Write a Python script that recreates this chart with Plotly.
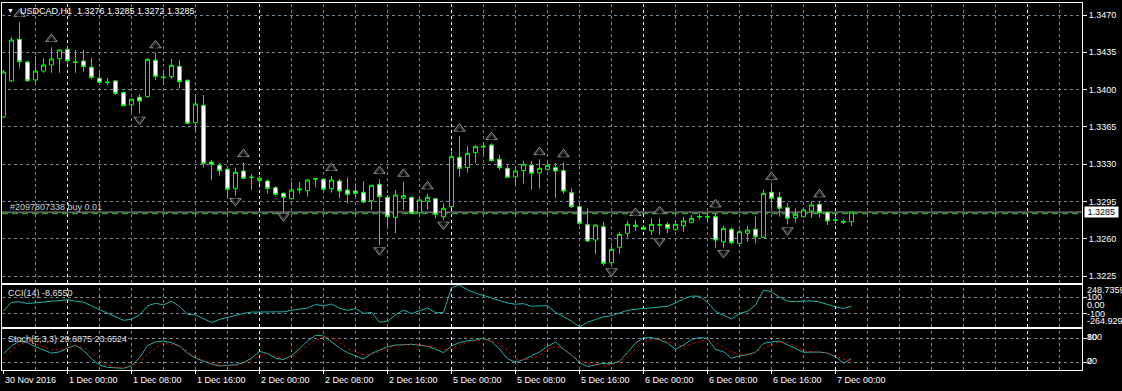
import plotly.graph_objects as go

# ---------------- data: H1 bars, bar 0 = 30 Nov 2016 16:00 ----------------
opens = [1.33743, 1.34081, 1.34472, 1.34259, 1.34090, 1.34174, 1.34231, 1.34290, 1.34378, 1.34259,
         1.34268, 1.34209, 1.34106, 1.34071, 1.34081, 1.33974, 1.33858, 1.33928, 1.33933, 1.34275,
         1.34118, 1.34121, 1.34218, 1.34087, 1.33689, 1.33852, 1.33320, 1.33289, 1.33252, 1.33073,
         1.33236, 1.33179, 1.33145, 1.33142, 1.33079, 1.33026, 1.32976, 1.33057, 1.33051, 1.33158,
         1.33158, 1.33070, 1.33142, 1.33057, 1.33048, 1.33036, 1.32957, 1.33111, 1.32989, 1.32801,
         1.32980, 1.32989, 1.32844, 1.32954, 1.32976, 1.32807, 1.32901, 1.33364, 1.33270, 1.33408,
         1.33461, 1.33480, 1.33346, 1.33261, 1.33182, 1.33239, 1.33289, 1.33220, 1.33252, 1.33267,
         1.33239, 1.33032, 1.32901, 1.32732, 1.32588, 1.32713, 1.32375, 1.32520, 1.32651, 1.32715,
         1.32707, 1.32675, 1.32726, 1.32735, 1.32689, 1.32722, 1.32754, 1.32804, 1.32809, 1.32807,
         1.32572, 1.32689, 1.32557, 1.32651, 1.32689, 1.32613, 1.33036, 1.32989, 1.32891, 1.32797,
         1.32807, 1.32860, 1.32923, 1.32848, 1.32776, 1.32764, 1.32760]
highs = [1.34184, 1.34494, 1.34634, 1.34268, 1.34315, 1.34294, 1.34397, 1.34376, 1.34403, 1.34372,
         1.34372, 1.34299, 1.34153, 1.34106, 1.34090, 1.33980, 1.33916, 1.33956, 1.34294, 1.34346,
         1.34158, 1.34287, 1.34278, 1.34095, 1.33956, 1.33949, 1.33339, 1.33314, 1.33261, 1.33267,
         1.33317, 1.33208, 1.33189, 1.33158, 1.33095, 1.33036, 1.33135, 1.33133, 1.33161, 1.33170,
         1.33170, 1.33189, 1.33161, 1.33177, 1.33120, 1.33142, 1.33104, 1.33158, 1.33010, 1.33057,
         1.33135, 1.32995, 1.32995, 1.33020, 1.32985, 1.32933, 1.33417, 1.33564, 1.33470, 1.33480,
         1.33496, 1.33496, 1.33386, 1.33292, 1.33276, 1.33332, 1.33330, 1.33346, 1.33308, 1.33308,
         1.33317, 1.33073, 1.32948, 1.32886, 1.32734, 1.32760, 1.32563, 1.32666, 1.32767, 1.32776,
         1.32729, 1.32792, 1.32792, 1.32754, 1.32757, 1.32807, 1.32823, 1.32839, 1.32844, 1.32839,
         1.32720, 1.32704, 1.32682, 1.32720, 1.32807, 1.33064, 1.33126, 1.33041, 1.32938, 1.32886,
         1.32895, 1.32948, 1.32948, 1.32860, 1.32813, 1.32782, 1.32850]
lows = [1.33733, 1.34071, 1.34200, 1.34076, 1.34068, 1.34158, 1.34158, 1.34158, 1.34247, 1.34158,
        1.34168, 1.34099, 1.34059, 1.34043, 1.33949, 1.33841, 1.33792, 1.33777, 1.33926, 1.34090,
        1.34043, 1.34099, 1.34012, 1.33677, 1.33605, 1.33267, 1.33151, 1.33192, 1.32995, 1.33004,
        1.33164, 1.33057, 1.33114, 1.33026, 1.33004, 1.32854, 1.32968, 1.33026, 1.32995, 1.33083,
        1.33051, 1.33032, 1.32980, 1.32933, 1.32995, 1.32933, 1.32870, 1.32541, 1.32713, 1.32651,
        1.32870, 1.32832, 1.32832, 1.32870, 1.32792, 1.32776, 1.32886, 1.33182, 1.33220, 1.33308,
        1.33386, 1.33325, 1.33245, 1.33170, 1.33104, 1.33120, 1.33064, 1.33073, 1.33240, 1.32980,
        1.33020, 1.32889, 1.32729, 1.32569, 1.32454, 1.32347, 1.32337, 1.32463, 1.32613, 1.32673,
        1.32682, 1.32635, 1.32635, 1.32651, 1.32673, 1.32666, 1.32745, 1.32782, 1.32751, 1.32516,
        1.32516, 1.32548, 1.32551, 1.32572, 1.32557, 1.32607, 1.32886, 1.32807, 1.32735, 1.32751,
        1.32799, 1.32797, 1.32801, 1.32729, 1.32738, 1.32738, 1.32720]
closes = [1.34165, 1.34465, 1.34262, 1.34083, 1.34174, 1.34231, 1.34287, 1.34372, 1.34271, 1.34256,
          1.34215, 1.34115, 1.34068, 1.34066, 1.33965, 1.33849, 1.33909, 1.33893, 1.34284, 1.34125,
          1.34113, 1.34228, 1.34074, 1.33684, 1.33865, 1.33308, 1.33299, 1.33239, 1.33064, 1.33224,
          1.33167, 1.33175, 1.33167, 1.33073, 1.33017, 1.32989, 1.33057, 1.33067, 1.33151, 1.33164,
          1.33064, 1.33151, 1.33048, 1.33017, 1.33026, 1.32945, 1.33102, 1.32995, 1.32807, 1.33010,
          1.33004, 1.32839, 1.32964, 1.32989, 1.32829, 1.32886, 1.33370, 1.33261, 1.33402, 1.33464,
          1.33468, 1.33332, 1.33267, 1.33177, 1.33236, 1.33299, 1.33214, 1.33261, 1.33289, 1.33236,
          1.33048, 1.32901, 1.32745, 1.32579, 1.32729, 1.32369, 1.32501, 1.32642, 1.32735, 1.32726,
          1.32689, 1.32735, 1.32732, 1.32698, 1.32735, 1.32767, 1.32792, 1.32809, 1.32804, 1.32588,
          1.32698, 1.32563, 1.32666, 1.32682, 1.32619, 1.33026, 1.32980, 1.32886, 1.32792, 1.32829,
          1.32870, 1.32917, 1.32844, 1.32767, 1.32773, 1.32757, 1.32850]

cci = [-69.5, 37.8, 42.7, 23, 30.5, 41.5, 53.7, 63.4, 68.3, 50, 40.3,
       -8.5, -50, -97.6, -141.5, -183, -171, -118, -6, 25.6, 6,
       50, -12, -110, -116, -159, -210, -173, -148, -129, -98,
       -83, -82, -83, -85, -79, -61, -49, -34, 11, -6,
       17, -37, -61, -40, -100, -85, -205, -195, -116, -59,
       -100, -65, -32, -89, -89, 218, 248.7359, 189, 149, 121,
       89, 51, 28, 13, 21, -11, -6, -4, -85, -143,
       -192, -264.929, -207, -173, -143, -126, -92, -61, -48, -40,
       -31, -22, -12, 28, 78, 113, 111, 37, -73, -122,
       -168, -100, -73, 4, 185, 167, 100, 51, 45, 51,
       55, 40, 7, -18, -40, -8.655]

stoch_main = [40.8, 61, 73, 69, 58.5, 50, 43, 46, 56, 63, 50,
              28.5, 13.5, 7.5, 6, 5, 11.5, 31, 62, 71, 73,
              69, 60.5, 43, 30.5, 22.5, 15.5, 11, 12, 14, 19,
              30, 47.5, 42, 30, 27, 37, 53.5, 73.5, 87.5, 86,
              71, 56, 44, 36, 28, 42, 51.5, 59, 63, 64.5,
              65, 63, 60, 53, 44, 61, 69.5, 74, 75.5, 80,
              72.5, 52.5, 29, 20, 26.5, 36, 46, 59.5, 71, 53,
              38, 20, 9, 14, 17, 16, 23, 44.5, 68, 81,
              82, 76.5, 67.5, 53, 63, 77, 82, 79.5, 52, 46.5,
              30, 36, 39, 45, 67.5, 71, 73, 64, 55, 45,
              45.5, 45.5, 43, 34, 17.5, 29.6875]
stoch_signal = [27.5, 49.5, 66, 70, 66, 58, 50.5, 52, 56, 62, 57,
                42.5, 26, 13, 7, 6.5, 11.5, 20, 39.5, 56, 67,
                65.5, 59, 47.5, 34, 25, 18.5, 12, 11, 12, 16,
                25.5, 36.5, 43.5, 34, 29, 34, 46, 63, 74.5, 84,
                81, 70, 55, 45, 39.5, 39, 46.5, 56, 61.5, 63,
                65.5, 64.5, 61.5, 57, 51, 54, 63, 70, 74, 77,
                75, 66.5, 50, 29.5, 25, 31, 37.5, 53, 59, 55,
                37, 25, 17, 14.5, 13, 14.5, 20, 34.5, 55, 71,
                76, 77.5, 72.5, 66, 59, 66, 72.5, 77, 70, 58,
                46, 40, 37, 45, 55, 64, 70, 69.5, 60.5, 49,
                47, 45.5, 44.5, 35.5, 27.5, 23.6524]

up_arrow_bars = [2, 6, 19, 30, 41, 47, 50, 53, 57, 61, 67, 70, 79, 82, 89, 96, 102]
up_arrow_prices = [1.34709, 1.34475, 1.34416, 1.33395, 1.33264, 1.33236, 1.33210, 1.33092, 1.33633,
                   1.33555, 1.33414, 1.33393, 1.32842, 1.32860, 1.32923, 1.33180, 1.33017]
down_arrow_bars = [17, 29, 35, 47, 55, 76, 82, 90, 98]
down_arrow_prices = [1.33717, 1.32954, 1.32811, 1.32492, 1.32732, 1.32294, 1.32576, 1.32466, 1.32679]

symbol_name = "USDCAD,H1"
order_label = "#2097807338 buy 0.01"
order_price = 1.32835

time_label_bars = [0, 8, 16, 24, 32, 40, 48, 56, 64, 72, 80, 88, 96, 104]
time_labels = ["30 Nov 2016", "1 Dec 00:00", "1 Dec 08:00", "1 Dec 16:00", "2 Dec 00:00",
               "2 Dec 08:00", "2 Dec 16:00", "5 Dec 00:00", "5 Dec 08:00", "5 Dec 16:00",
               "6 Dec 00:00", "6 Dec 08:00", "6 Dec 16:00", "7 Dec 00:00"]
day_separator_bars = [8, 32, 56, 80, 104, 128]
price_ticks = [1.3470, 1.3435, 1.3400, 1.3365, 1.3330, 1.3295, 1.3260, 1.3225]
cci_levels = [100, -100]
stoch_levels = [80, 20]

# ---------------- layout geometry / styles ----------------
W, H = 1122, 391
PL, PR = 2, 1082
MAIN_T, MAIN_B = 2.5, 283.0
CCI_T, CCI_B = 285.0, 327.0
STO_T, STO_B = 329.0, 370.0
BAR_PX = 8.0
FIRST_BAR_PX = 3.5
PX_PER_PRICE = 37.29 / 0.0035
REF_PRICE, REF_PX = 1.3470, 15.0
GRID = "#778899"
DASH = "3px,3px"
FONT = "Liberation Sans, Arial, sans-serif"
FS = 9
LSG = "#20b2aa"
LIME = "#00ff00"

n = len(opens)
bars = list(range(n))


def dom(t, b):
    return [1 - b / H, 1 - t / H]


def py(px):
    return 1 - px / H


x_lo = -(FIRST_BAR_PX - PL) / BAR_PX
x_range = [x_lo, x_lo + (PR - PL) / BAR_PX]
y_main_range = [REF_PRICE - (MAIN_B - REF_PX) / PX_PER_PRICE,
                REF_PRICE + (REF_PX - MAIN_T) / PX_PER_PRICE]
ppp = 1.0 / PX_PER_PRICE
cci_range = [min(cci), max(cci)]
stoch_range = [0.75, 103.25]

fig = go.Figure()

fig.add_trace(go.Candlestick(
    x=bars, open=opens, high=highs, low=lows, close=closes,
    increasing=dict(line=dict(color=LIME, width=1), fillcolor="black"),
    decreasing=dict(line=dict(color=LIME, width=1), fillcolor="white"),
    whiskerwidth=0, hoverinfo="skip", xaxis="x", yaxis="y"))

arrow_fill, arrow_edge = "#2e2e2e", "#8a8a8a"
fig.add_trace(go.Scatter(x=up_arrow_bars, y=up_arrow_prices, mode="markers",
                         marker=dict(symbol="triangle-up", size=10, color=arrow_fill,
                                     line=dict(color=arrow_edge, width=1)),
                         hoverinfo="skip", xaxis="x", yaxis="y"))
fig.add_trace(go.Scatter(x=up_arrow_bars, y=[p - 1.25 * ppp for p in up_arrow_prices], mode="markers",
                         marker=dict(symbol="triangle-up", size=5, color="black", line=dict(width=0)),
                         hoverinfo="skip", xaxis="x", yaxis="y"))
fig.add_trace(go.Scatter(x=down_arrow_bars, y=down_arrow_prices, mode="markers",
                         marker=dict(symbol="triangle-down", size=10, color=arrow_fill,
                                     line=dict(color=arrow_edge, width=1)),
                         hoverinfo="skip", xaxis="x", yaxis="y"))
fig.add_trace(go.Scatter(x=down_arrow_bars, y=[p + 1.25 * ppp for p in down_arrow_prices], mode="markers",
                         marker=dict(symbol="triangle-down", size=5, color="black", line=dict(width=0)),
                         hoverinfo="skip", xaxis="x", yaxis="y"))

fig.add_trace(go.Scatter(x=bars, y=cci, mode="lines", line=dict(color=LSG, width=1),
                         hoverinfo="skip", xaxis="x2", yaxis="y2"))
fig.add_trace(go.Scatter(x=bars, y=stoch_main, mode="lines", line=dict(color=LSG, width=1),
                         hoverinfo="skip", xaxis="x3", yaxis="y3"))
fig.add_trace(go.Scatter(x=bars, y=stoch_signal, mode="lines",
                         line=dict(color="#ff0000", width=1, dash="2px,3px"),
                         hoverinfo="skip", xaxis="x3", yaxis="y3"))

xcommon = dict(domain=[PL / W, PR / W], range=x_range, showgrid=False, zeroline=False,
               showline=True, mirror=True, linecolor="white", linewidth=1,
               showticklabels=False, ticks="", fixedrange=True)
ycommon = dict(side="right", zeroline=False, showline=True, mirror=True, linecolor="white",
               linewidth=1, showgrid=True, gridcolor=GRID, griddash=DASH, gridwidth=1,
               ticks="outside", ticklen=4, tickcolor="white", fixedrange=True)

fig.update_layout(
    width=W, height=H, margin=dict(l=0, r=0, t=0, b=0),
    paper_bgcolor="black", plot_bgcolor="black", showlegend=False,
    font=dict(family=FONT, size=FS, color="white"),
    boxgap=0.5, boxgroupgap=0,
    xaxis=dict(xcommon, anchor="y", rangeslider=dict(visible=False)),
    xaxis2=dict(xcommon, anchor="y2", matches="x"),
    xaxis3=dict(xcommon, anchor="y3", matches="x", tickmode="array", tickvals=time_label_bars,
                ticks="outside", ticklen=3, tickcolor="white"),
    yaxis=dict(ycommon, anchor="x", domain=dom(MAIN_T, MAIN_B), range=y_main_range,
               tickmode="array", tickvals=price_ticks, ticktext=[f"{v:.4f}" for v in price_ticks],
               tickfont=dict(color="white", size=FS, family=FONT)),
    yaxis2=dict(ycommon, anchor="x2", domain=dom(CCI_T, CCI_B), range=cci_range,
                tickmode="array", tickvals=cci_levels, showticklabels=False),
    yaxis3=dict(ycommon, anchor="x3", domain=dom(STO_T, STO_B), range=stoch_range,
                tickmode="array", tickvals=stoch_levels, showticklabels=False),
)

# vertical grid (every 4 bars) + day separators in all three panels
grid_bars = [b for b in range(4, int(x_range[1]) + 1, 4) if b not in day_separator_bars]
shapes = []
for xa, ya in (("x", "y"), ("x2", "y2"), ("x3", "y3")):
    for b in grid_bars:
        shapes.append(dict(type="line", xref=xa, yref=f"{ya} domain", x0=b, x1=b, y0=0, y1=1,
                           line=dict(color=GRID, width=1, dash=DASH), layer="below"))
    for b in day_separator_bars:
        shapes.append(dict(type="line", xref=xa, yref=f"{ya} domain", x0=b, x1=b, y0=0, y1=1,
                           line=dict(color="white", width=1, dash=DASH), layer="below"))
# bid line and order line
shapes.append(dict(type="line", xref="x domain", yref="y", x0=0, x1=1, y0=closes[-1], y1=closes[-1],
                   line=dict(color="#a0a0a0", width=1), layer="below"))
shapes.append(dict(type="line", xref="x domain", yref="y", x0=0, x1=1, y0=order_price, y1=order_price,
                   line=dict(color="#32cd32", width=1, dash="6px,4px"), layer="below"))
fig.update_layout(shapes=shapes)

ann = []
ann.append(dict(text="▼", xref="paper", yref="paper", x=5 / W, y=py(10.5), xanchor="left",
                yanchor="middle", showarrow=False, font=dict(size=7, color="white")))
ann.append(dict(text=f"{symbol_name}  {opens[-1]:.4f} {highs[-1]:.4f} {lows[-1]:.4f} {closes[-1]:.4f}",
                xref="paper", yref="paper", x=18 / W, y=py(11), xanchor="left", yanchor="middle",
                showarrow=False, font=dict(size=FS, color="white")))
ann.append(dict(text=order_label, xref="paper", yref="y", x=8 / W, y=order_price, xanchor="left",
                yanchor="bottom", showarrow=False, font=dict(size=FS, color="#c8d2dc")))
ann.append(dict(text=f" {closes[-1]:.4f} ", xref="paper", yref="y", x=1084 / W, y=closes[-1],
                xanchor="left", yanchor="middle", showarrow=False, bgcolor="white", borderpad=0,
                font=dict(size=FS, color="black")))
ann.append(dict(text=f"CCI(14) {cci[-1]:.4f}", xref="paper", yref="paper", x=6 / W, y=py(292.5),
                xanchor="left", yanchor="middle", showarrow=False, font=dict(size=FS, color="#e0e0e0")))
ann.append(dict(text=f"Stoch(5,3,3) {stoch_main[-1]:.4f} {stoch_signal[-1]:.4f}", xref="paper",
                yref="paper", x=6 / W, y=py(339), xanchor="left", yanchor="middle", showarrow=False,
                font=dict(size=FS, color="#e0e0e0")))
# indicator scale labels
lab_x = 1085 / W
ann.append(dict(text=f"{max(cci):.4f}", xref="paper", yref="y2", x=lab_x, y=max(cci), xanchor="left",
                yanchor="middle", yshift=-5, showarrow=False, font=dict(size=FS, color="white")))
for v, t in ((100, "100"), (0, "0.00"), (-100, "-100")):
    ann.append(dict(text=t, xref="paper", yref="y2", x=lab_x, y=v, xanchor="left", yanchor="middle",
                    showarrow=False, font=dict(size=FS, color="white")))
ann.append(dict(text=f"{min(cci):.3f}", xref="paper", yref="y2", x=lab_x, y=min(cci), xanchor="left",
                yanchor="middle", yshift=6.5, showarrow=False, font=dict(size=FS, color="white")))
for v, t in ((80, "100"), (80, "80"), (20, "20"), (20, "0")):
    ann.append(dict(text=t, xref="paper", yref="y3", x=lab_x, y=v, xanchor="left", yanchor="middle",
                    yshift=1, showarrow=False, font=dict(size=FS, color="white")))
for b, t in zip(time_label_bars, time_labels):
    ann.append(dict(text=t, xref="x3", yref="paper", x=b, y=py(380), xanchor="left", yanchor="middle",
                    xshift=-1, showarrow=False, font=dict(size=FS, color="white")))
fig.update_layout(annotations=ann)

fig.write_html("out.html", config={"displayModeBar": False})
